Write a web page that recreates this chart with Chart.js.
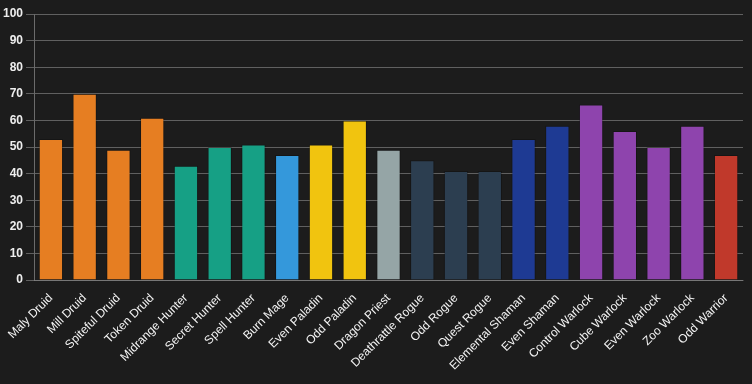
<!DOCTYPE html>
<html>
<head>
<meta charset="utf-8">
<script src="https://cdn.jsdelivr.net/npm/chart.js@4"></script>
<style>
  html, body { margin: 0; padding: 0; background: #1c1c1c; }
  #wrap { width: 752px; height: 384px; }
</style>
</head>
<body>
<div id="wrap"><canvas id="chart"></canvas></div>
<script>
const decks = [
  "Maly Druid", "Mill Druid", "Spiteful Druid", "Token Druid",
  "Midrange Hunter", "Secret Hunter", "Spell Hunter", "Burn Mage",
  "Even Paladin", "Odd Paladin", "Dragon Priest", "Deathrattle Rogue",
  "Odd Rogue", "Quest Rogue", "Elemental Shaman", "Even Shaman",
  "Control Warlock", "Cube Warlock", "Even Warlock", "Zoo Warlock", "Odd Warrior"
];
const winRates = [53, 70, 49, 61, 43, 50, 51, 47, 51, 60, 49, 45, 41, 41, 53, 58, 66, 56, 50, 58, 47];
const classColors = [
  "#e67e22", "#e67e22", "#e67e22", "#e67e22",
  "#16a085", "#16a085", "#16a085", "#3498db",
  "#f1c40f", "#f1c40f", "#95a5a6", "#2c3e50",
  "#2c3e50", "#2c3e50", "#1e3a93", "#1e3a93",
  "#8e44ad", "#8e44ad", "#8e44ad", "#8e44ad", "#c0392b"
];

const ctx = document.getElementById("chart").getContext("2d");
new Chart(ctx, {
  type: "bar",
  data: {
    labels: decks,
    datasets: [
      {
        label: "Win rate",
        data: winRates,
        backgroundColor: classColors,
        borderColor: "rgba(0, 0, 0, 0.25)",
        borderWidth: 1,
      },
    ],
  },
  options: {
    responsive: true,
    maintainAspectRatio: false,
    animation: false,
    layout: { padding: { top: 14, right: 9, bottom: 8 } },
    plugins: {
      legend: { display: false },
      tooltip: { enabled: false },
    },
    scales: {
      x: {
        grid: { display: false },
        border: { color: "rgba(255, 255, 255, 0.15)" },
        ticks: {
          color: "#f4f4f4",
          maxRotation: 45,
          minRotation: 45,
          font: { family: "Liberation Sans, Arial", size: 12 },
        },
      },
      y: {
        min: 0,
        max: 100,
        border: { color: "rgba(255, 255, 255, 0.35)" },
        grid: { color: "rgba(255, 255, 255, 0.3)" },
        ticks: {
          stepSize: 10,
          color: "#eeeeee",
          font: { family: "Liberation Sans, Arial", size: 12, weight: "bold" },
        },
      },
    },
  },
});
</script>
</body>
</html>
